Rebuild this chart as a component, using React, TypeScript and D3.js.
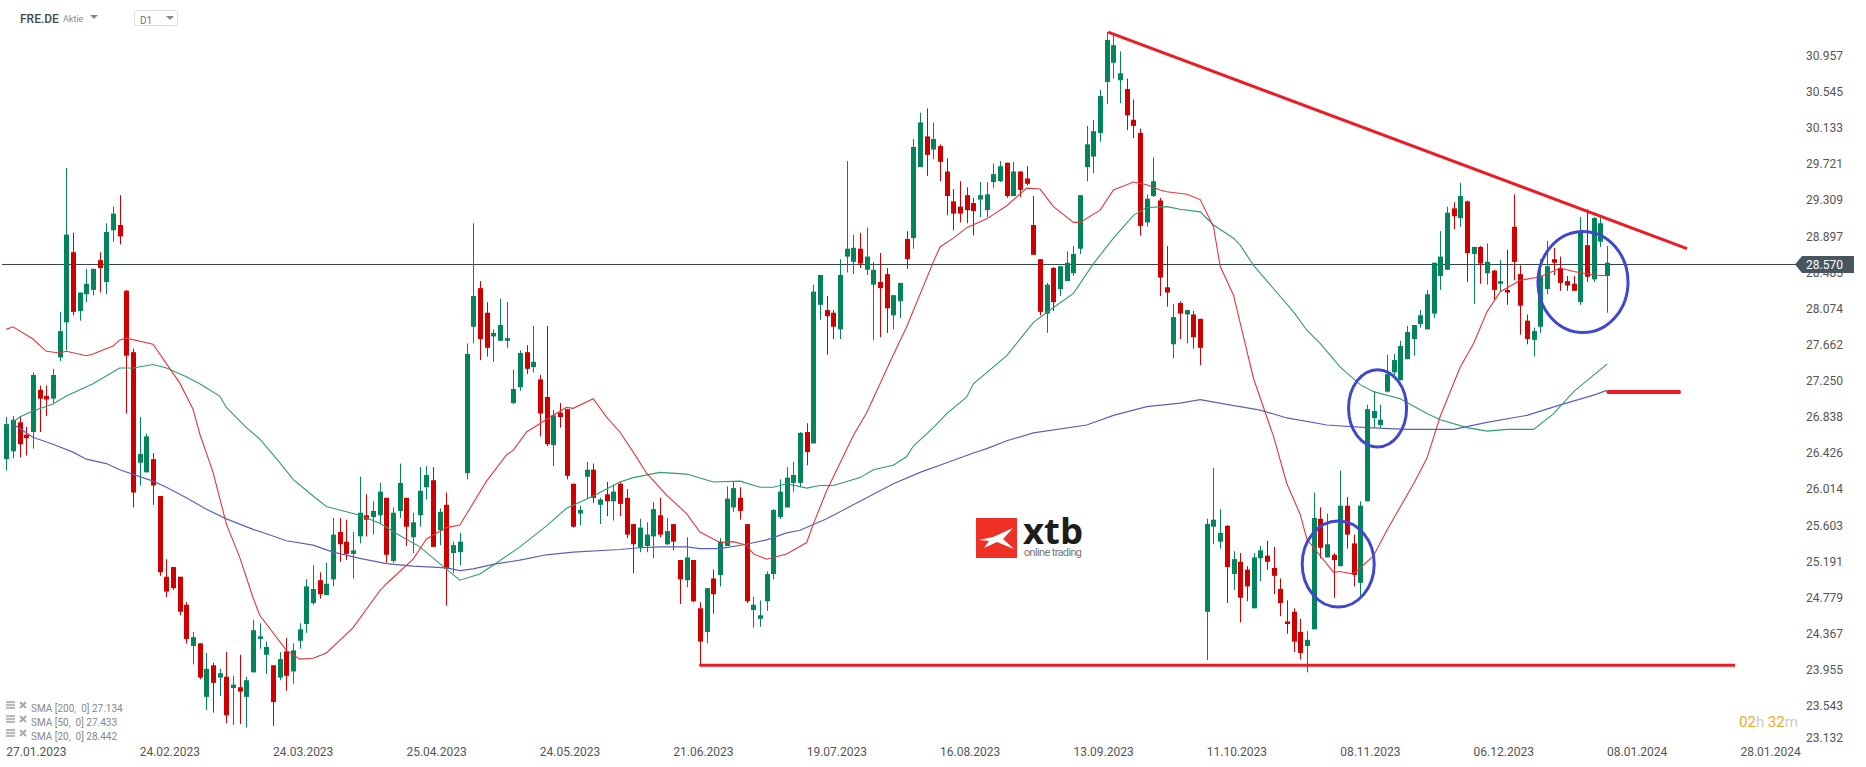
import * as d3 from "d3";

const highs = [
  26.83,26.84,26.83,26.72,27.34,27.19,27.19,27.38,28.03,29.67,
  28.93,28.25,28.52,28.52,28.71,29.04,29.23,29.36,28.28,27.61,
  26.83,26.64,26.42,25.93,25.21,25.12,25.01,24.72,24.38,24.25,
  24.14,24.03,23.96,24.15,23.88,24.12,23.87,24.52,24.48,24.27,
  24.00,24.15,24.31,24.25,24.48,24.98,25.14,25.06,25.17,25.68,
  25.68,25.66,25.52,26.15,25.95,25.87,26.08,25.91,25.80,26.30,
  25.91,25.74,26.26,26.27,26.26,25.79,25.97,25.41,25.51,27.67,
  29.04,28.38,28.14,27.83,28.18,28.14,27.37,27.59,27.65,27.87,
  27.31,27.87,26.91,26.99,26.92,26.07,25.82,26.32,26.30,25.91,
  26.09,26.06,26.09,26.01,25.61,25.67,25.63,25.86,25.91,25.68,
  25.61,25.20,25.46,25.20,24.72,24.88,25.09,25.45,26.04,26.10,
  26.03,25.61,24.78,24.74,25.07,25.78,26.12,26.26,26.32,26.66,
  26.76,28.34,28.45,28.21,28.05,28.63,29.75,28.91,28.93,28.99,
  28.60,28.70,28.53,28.22,28.36,28.95,30.00,30.30,30.35,30.19,
  29.94,29.78,29.43,29.52,29.45,29.33,29.51,29.51,29.72,29.75,
  29.73,29.74,29.63,29.69,29.35,28.63,28.36,28.54,28.55,28.72,
  28.78,29.36,30.15,30.22,30.56,31.22,31.18,31.00,30.69,30.45,
  30.12,29.37,29.79,29.33,28.78,28.12,28.15,28.05,28.04,27.95,
  25.67,26.25,25.78,25.60,25.30,25.28,25.13,25.28,25.36,25.42,
  25.35,24.99,24.74,24.65,24.53,24.39,25.97,25.80,25.73,25.28,
  26.22,25.92,25.49,25.87,26.97,27.13,26.97,27.54,27.55,27.70,
  27.87,27.88,28.05,28.28,28.59,28.95,29.23,29.28,29.50,29.30,
  28.77,28.78,28.81,28.51,28.62,28.74,29.37,28.56,28.00,27.85,
  28.63,28.84,28.76,28.66,28.44,28.44,29.11,29.20,29.11,29.10,
  28.78,
];

const bodyTops = [
  26.75,26.80,26.77,26.63,27.31,27.14,27.07,27.31,27.81,28.91,
  28.71,28.25,28.35,28.52,28.62,28.94,29.15,29.02,28.27,27.57,
  26.41,26.61,26.35,25.93,25.01,25.12,25.01,24.69,24.32,24.25,
  23.96,24.00,23.91,23.87,23.78,23.75,23.83,24.40,24.33,24.21,
  24.00,24.07,24.16,24.17,24.41,24.90,24.87,24.97,24.93,25.49,
  25.52,25.41,25.31,25.74,25.71,25.76,25.98,25.91,25.74,26.08,
  25.91,25.63,25.99,26.17,26.11,25.75,25.83,25.37,25.41,27.55,
  28.21,28.30,28.02,27.79,27.88,27.73,27.15,27.56,27.57,27.46,
  27.26,27.06,26.85,26.88,26.92,26.07,25.77,26.23,26.23,25.89,
  25.95,25.98,26.07,25.91,25.61,25.57,25.49,25.78,25.71,25.53,
  25.61,25.20,25.23,25.20,24.65,24.88,24.99,25.41,25.90,26.02,
  25.91,25.61,24.69,24.57,25.04,25.77,25.98,26.14,26.17,26.65,
  26.66,28.26,28.45,28.05,28.02,28.45,28.75,28.76,28.75,28.66,
  28.51,28.37,28.46,28.22,28.36,28.86,29.91,30.19,30.03,30.00,
  29.92,29.63,29.29,29.23,29.36,29.27,29.36,29.37,29.60,29.69,
  29.73,29.63,29.63,29.55,29.02,28.63,28.34,28.53,28.55,28.59,
  28.69,29.36,29.94,30.09,30.49,31.13,31.07,30.75,30.57,30.22,
  30.07,29.32,29.52,29.30,28.31,27.97,28.13,28.05,28.00,27.95,
  25.61,25.66,25.51,25.59,25.21,25.18,25.09,25.23,25.31,25.25,
  25.11,24.87,24.50,24.61,24.38,24.29,25.68,25.67,25.38,25.26,
  25.82,25.82,25.39,25.82,26.92,26.90,26.80,27.32,27.48,27.64,
  27.80,27.88,27.99,28.23,28.59,28.66,29.16,29.21,29.35,29.29,
  28.77,28.77,28.60,28.50,28.38,28.28,29.00,28.46,27.93,27.81,
  28.44,28.55,28.63,28.53,28.38,28.35,28.94,28.79,29.10,29.04,
  28.59,
];

const bodyBottoms = [
  26.35,26.44,26.52,26.59,26.66,27.04,27.03,27.04,27.51,27.91,
  28.03,28.04,28.23,28.28,28.53,28.37,28.96,28.89,27.53,25.97,
  26.31,26.20,26.05,25.06,24.84,24.88,24.61,24.30,24.22,23.86,
  23.64,23.80,23.86,23.43,23.74,23.70,23.64,23.92,24.30,24.12,
  23.58,23.86,23.88,23.93,24.28,24.47,24.71,24.81,24.80,24.98,
  25.38,25.27,25.27,25.47,25.66,25.69,25.71,25.26,25.19,25.76,
  25.58,25.46,25.71,26.03,25.35,25.54,25.10,25.28,25.29,26.19,
  27.86,27.72,27.62,27.75,27.70,27.70,26.99,27.17,27.38,27.40,
  26.87,26.52,26.51,26.83,26.16,25.58,25.73,26.15,25.91,25.83,
  25.87,25.87,25.84,25.49,25.38,25.34,25.36,25.47,25.49,25.38,
  25.41,24.98,24.97,24.73,24.27,24.38,24.81,25.03,25.36,25.80,
  25.76,24.73,24.63,24.53,24.73,25.04,25.69,25.80,26.08,26.08,
  26.43,26.53,28.11,27.98,27.86,27.83,28.66,28.60,28.58,28.51,
  28.34,28.30,28.07,27.99,28.15,28.63,28.87,29.68,29.82,29.88,
  29.74,29.35,29.15,29.15,29.19,29.18,29.31,29.19,29.51,29.52,
  29.35,29.35,29.42,29.49,28.68,28.03,28.01,28.14,28.29,28.38,
  28.47,28.75,29.68,29.80,30.07,30.65,30.87,30.67,30.27,30.15,
  29.01,29.05,29.35,28.42,28.25,27.66,28.01,28.00,27.74,27.62,
  24.61,25.58,25.41,25.12,25.04,24.77,24.90,24.65,25.22,25.18,
  25.02,24.71,24.47,24.27,24.14,24.22,24.41,25.34,25.23,25.20,
  25.13,25.49,25.03,24.94,25.87,26.82,26.74,27.12,27.34,27.25,
  27.49,27.72,27.89,27.83,28.01,28.44,28.51,29.12,29.10,28.70,
  28.69,28.58,28.47,28.28,28.35,28.25,28.60,28.10,27.72,27.71,
  27.86,28.29,28.59,28.36,28.33,28.27,28.14,28.43,28.40,28.83,
  28.44,
];

const lows = [
  26.22,26.36,26.37,26.39,26.47,26.66,26.84,26.98,27.47,27.59,
  27.99,27.93,28.14,28.22,28.25,28.23,28.83,28.80,26.87,25.80,
  26.05,26.20,25.83,25.02,24.78,24.86,24.57,24.25,24.01,23.84,
  23.49,23.46,23.65,23.34,23.32,23.33,23.29,23.92,24.19,23.90,
  23.31,23.83,23.71,23.79,24.19,24.37,24.69,24.76,24.80,24.90,
  25.18,25.20,24.99,25.39,25.47,25.49,25.61,25.17,25.17,25.68,
  25.36,25.28,25.58,25.89,25.35,25.37,24.68,25.05,25.14,26.12,
  27.67,27.48,27.52,27.46,27.70,27.62,26.98,27.13,27.32,27.34,
  26.61,26.50,26.27,26.71,26.12,25.57,25.60,25.90,25.85,25.61,
  25.70,25.65,25.70,25.45,25.05,25.29,25.29,25.22,25.46,25.37,
  25.31,24.70,24.89,24.72,24.01,24.25,24.59,24.90,25.36,25.75,
  25.66,24.71,24.43,24.44,24.62,24.98,25.67,25.80,25.98,26.03,
  26.28,26.53,27.94,27.54,27.72,27.72,28.48,28.46,28.53,28.45,
  27.71,27.74,27.79,27.83,27.96,28.52,28.75,29.68,29.58,29.77,
  29.52,29.13,28.96,29.05,29.04,28.90,29.11,29.11,29.44,29.51,
  29.33,29.35,29.34,29.47,28.68,27.99,27.79,28.04,28.21,28.38,
  28.44,28.69,29.52,29.61,29.97,30.40,30.69,30.41,30.10,30.01,
  28.90,29.00,29.34,28.21,28.09,27.50,27.72,27.67,27.61,27.42,
  24.06,25.38,25.33,24.71,24.86,24.49,24.73,24.65,24.96,25.09,
  24.81,24.56,24.36,24.15,24.07,23.92,24.41,25.22,25.23,24.77,
  25.13,25.33,24.90,24.79,25.87,26.71,26.71,27.11,27.31,27.25,
  27.49,27.53,27.85,27.83,27.96,28.28,28.51,28.97,29.00,28.37,
  28.12,28.35,28.34,28.17,28.26,28.11,28.39,27.77,27.66,27.52,
  27.79,28.23,28.45,28.27,28.27,28.27,28.11,28.37,28.37,28.77,
  28.02,
];

const candleColours = [
  "ggrrgrrggg","rgggrggrrr","ggrrrrrrgr","grgrgrgggg","rgrggggrgg",
  "rrggrggrgg","rgggrgrggg","grrgggggrg","rrgrrrggrg","rgrrrgggrg",
  "rrgrrgrggg","rrgggggggg","rggrrgggrg","grrggrggrg","rrrrrrgggg",
  "rgrrrrgrgg","ggggggggrr","rggrrgrgrr","gggrgrrggr","rrrrrggrgr",
  "grrggggggg","gggggggrgr","grgrgrrrrg","ggrrrrgrgg","g",
].join("");

const sma200Idx = [1,4,7,10,12,15,17,22,24,27,30,33,37,39,42,46,49,53,57,61,66,68,70,73,77,81,85,92,95,98,102,104,107,111,114,117,119,123,126,129,133,137,141,145,147,150,154,162,166,171,176,179,184,185,188,192,198,204,210,217,222,228,233,238,240];
const sma200Val = [26.75,26.60,26.52,26.43,26.35,26.30,26.23,26.10,26.03,25.91,25.78,25.67,25.55,25.50,25.42,25.37,25.29,25.22,25.16,25.13,25.11,25.08,25.10,25.15,25.20,25.26,25.29,25.32,25.34,25.35,25.35,25.33,25.33,25.38,25.43,25.51,25.54,25.67,25.79,25.91,26.07,26.20,26.31,26.42,26.47,26.56,26.65,26.74,26.85,26.95,26.99,27.03,26.96,26.95,26.91,26.82,26.74,26.71,26.69,26.69,26.77,26.85,26.97,27.08,27.134];

const sma50Idx = [1,2,4,7,9,13,17,19,22,24,27,29,32,33,36,38,41,43,46,48,49,53,56,59,62,65,68,71,73,77,81,84,88,92,94,98,102,106,110,113,115,117,120,122,124,128,130,133,135,136,139,141,144,145,150,154,157,160,163,166,169,171,174,176,179,181,184,185,187,193,195,197,200,203,205,209,213,215,219,222,225,229,232,235,240];
const sma50Val = [26.77,26.83,26.90,26.98,27.07,27.21,27.39,27.39,27.43,27.39,27.29,27.21,27.07,26.94,26.71,26.58,26.31,26.12,25.93,25.81,25.79,25.71,25.62,25.48,25.35,25.16,24.97,25.04,25.14,25.35,25.59,25.79,25.93,26.09,26.14,26.20,26.18,26.09,26.10,26.03,26.03,26.07,26.02,26.05,26.05,26.14,26.23,26.28,26.38,26.50,26.71,26.87,27.06,27.21,27.53,27.91,28.08,28.24,28.58,28.87,29.13,29.22,29.23,29.20,29.17,29.02,28.87,28.79,28.56,28.03,27.82,27.67,27.40,27.20,27.12,27.04,26.87,26.80,26.71,26.67,26.69,26.69,26.87,27.12,27.433];

const sma20Idx = [0,1,4,6,8,9,12,13,16,17,18,22,24,26,28,29,31,33,35,37,38,42,44,46,48,52,56,57,61,63,66,68,72,75,76,78,82,84,85,88,90,92,94,96,99,102,104,107,109,111,112,114,117,120,121,123,127,129,131,133,135,139,140,142,144,147,150,153,155,157,160,161,164,166,169,171,173,174,177,179,181,182,184,187,190,192,194,195,199,200,202,205,207,211,213,215,218,220,222,224,227,230,233,235,238,240];
const sma20Val = [27.83,27.86,27.72,27.58,27.56,27.58,27.53,27.55,27.64,27.71,27.73,27.66,27.44,27.22,26.92,26.64,26.20,25.61,25.23,24.77,24.57,24.17,24.07,24.08,24.14,24.43,24.85,24.93,25.21,25.44,25.57,25.60,26.10,26.40,26.45,26.66,26.85,26.94,26.93,27.04,26.83,26.66,26.43,26.19,25.94,25.73,25.52,25.40,25.41,25.37,25.27,25.21,25.27,25.40,25.61,25.99,26.62,26.88,27.21,27.54,27.86,28.60,28.77,28.87,28.99,29.09,29.24,29.44,29.43,29.23,29.05,29.05,29.19,29.42,29.51,29.48,29.42,29.40,29.37,29.31,29.00,28.55,28.22,27.27,26.61,26.07,25.72,25.44,25.06,25.07,25.04,25.25,25.54,26.07,26.36,26.84,27.40,27.67,28.03,28.26,28.39,28.43,28.53,28.49,28.45,28.442];

const priceTicks = [30.957,30.545,30.133,29.721,29.309,28.897,28.485,28.074,27.662,27.25,26.838,26.426,26.014,25.603,25.191,24.779,24.367,23.955,23.543];
const dateLabels = ["27.01.2023","24.02.2023","24.03.2023","25.04.2023","24.05.2023","21.06.2023","19.07.2023","16.08.2023","13.09.2023","11.10.2023","08.11.2023","06.12.2023","08.01.2024","28.01.2024"];
const legendRows = ["SMA [200,  0] 27.134","SMA [50,  0] 27.433","SMA [20,  0] 28.442"];

const lastPrice = 28.57;
const trendIdx = [165.2, 252.0];
const trendVal = [31.22, 28.75];
const supportIdx = [103.9, 259.2];
const supportVal = 24.0;
const targetIdx = [240.2, 250.8];
const targetVal = 27.116;
// centre index, centre price, radius in candles, radius in price
const circles = [
  [205.6, 26.93, 4.35, 0.441],
  [236.4, 28.37, 6.75, 0.576],
  [199.7, 25.155, 5.4, 0.49],
];

const x = d3.scaleLinear().domain([0, 240]).range([6.3, 1607]);
const y = d3.scaleLinear().domain([31.5, 23]).range([7.5, 753]);

const green = "#04845a";
const red = "#d10000";
const font = "Roboto, sans-serif";

const smaLine = (idx: number[], val: number[]) =>
  d3.line<number>().x((d) => x(d)).y((_, i) => y(val[i]))(idx) as string;

const App = () => {
  const badgeY = Math.floor(y(lastPrice)) + 0.5;
  return (
    <svg width={1866} height={767} style={{ position: "absolute", left: 0, top: 0, background: "#fff" }} fontFamily={font}>
      {/* price axis */}
      {priceTicks.map((p) => (
        <text key={p} x={1806} y={y(p)} dy="0.4em" fontSize={12} fill="#555">{p.toFixed(3)}</text>
      ))}
      <text x={1806} y={737} dy="0.4em" fontSize={12} fill="#555">23.132</text>
      {/* date axis */}
      {dateLabels.map((d, i) => (
        <text key={d} x={x(i * 20)} y={751} dy="0.4em" fontSize={12} fill="#555">{d}</text>
      ))}

      <line x1={2} x2={1796} y1={badgeY} y2={badgeY} stroke="#33444e" strokeWidth={1} />

      {/* candles */}
      {highs.map((h, i) => {
        const c = candleColours[i] === "g" ? green : red;
        const px = Math.round(x(i));
        return (
          <g key={i} fill={c}>
            <rect x={px} y={y(h)} width={1} height={y(lows[i]) - y(h)} />
            <rect x={px - 2} y={y(bodyTops[i])} width={5} height={Math.max(1, y(bodyBottoms[i]) - y(bodyTops[i]))} />
          </g>
        );
      })}

      {/* moving averages */}
      <path d={smaLine(sma200Idx, sma200Val)} fill="none" stroke="#5a62b8" strokeWidth={1.2} />
      <path d={smaLine(sma50Idx, sma50Val)} fill="none" stroke="#2f9a75" strokeWidth={1.1} />
      <path d={smaLine(sma20Idx, sma20Val)} fill="none" stroke="#e2373c" strokeWidth={1.1} />

      {/* drawn annotations */}
      <line x1={x(trendIdx[0])} y1={y(trendVal[0])} x2={x(trendIdx[1])} y2={y(trendVal[1])} stroke="#ed1c24" strokeWidth={3} />
      <line x1={x(supportIdx[0])} y1={y(supportVal)} x2={x(supportIdx[1])} y2={y(supportVal)} stroke="#ed1c24" strokeWidth={3} />
      <line x1={x(targetIdx[0])} y1={y(targetVal)} x2={x(targetIdx[1])} y2={y(targetVal)} stroke="#ed1c24" strokeWidth={4} strokeLinecap="round" />
      {circles.map((c, i) => (
        <ellipse key={i} cx={x(c[0])} cy={y(c[1])} rx={x(c[2]) - x(0)} ry={y(0) - y(c[3])} fill="none" stroke="#3f48cc" strokeWidth={3} />
      ))}

      {/* last price badge */}
      <path d={`M1795,${badgeY} L1802,256 H1854 V273 H1802 Z`} fill="#47555f" />
      <text x={1806} y={badgeY} dy="0.4em" fontSize={12} fill="#fff">{lastPrice.toFixed(3)}</text>

      {/* header */}
      <text x={20} y={19} dy="0.36em" fontSize={12} fontWeight={500} fill="#3f4a52">FRE.DE</text>
      <text x={63} y={19} dy="0.36em" fontSize={9} fill="#888">Aktie</text>
      <path d="M90,15 H98 L94,19 Z" fill="#888" />
      <rect x={134.5} y={10.5} width={43} height={15} rx={2} fill="#fff" stroke="#ddd" />
      <text x={140} y={20} dy="0.36em" fontSize={10} fill="#777">D1</text>
      <path d="M166,16 H174 L170,20 Z" fill="#888" />

      {/* legend */}
      {legendRows.map((t, i) => {
        const ly = 708 + i * 14;
        return (
          <g key={t}>
            <rect x={6} y={ly - 7} width={9} height={8} fill="#bbb" />
            <path d={`M6,${ly - 4.5} H15 M6,${ly - 1.5} H15`} stroke="#fff" strokeWidth={0.8} />
            <path d={`M20,${ly - 6} L26,${ly} M26,${ly - 6} L20,${ly}`} stroke="#aaa" strokeWidth={2} />
            <text x={31} y={ly} dy="0.36em" fontSize={10} fill="#888" style={{ whiteSpace: "pre" }}>{t}</text>
          </g>
        );
      })}

      {/* countdown */}
      <text x={1739} y={722} dy="0.36em" fontSize={15} fill="#ccc">
        <tspan fill="#f5a623">02</tspan>h <tspan fill="#f5a623">32</tspan>m
      </text>

      {/* logo */}
      <rect x={976} y={518} width={41} height={40} fill="#ee3124" />
      <path d="M979,540 L993,537 L1013,528 L1003,539 L1014,549 L997,542 L984,548 L989,541 Z" fill="#fff" />
      <text x={1023} y={544} fontSize={36} fontWeight={700} fill="#1d1d1b" fontFamily="'Open Sans', sans-serif" textLength={60} lengthAdjust="spacingAndGlyphs">xtb</text>
      <text x={1024} y={552} dy="0.4em" fontSize={11} fill="#777" textLength={58}>online trading</text>
    </svg>
  );
};

export default App;
